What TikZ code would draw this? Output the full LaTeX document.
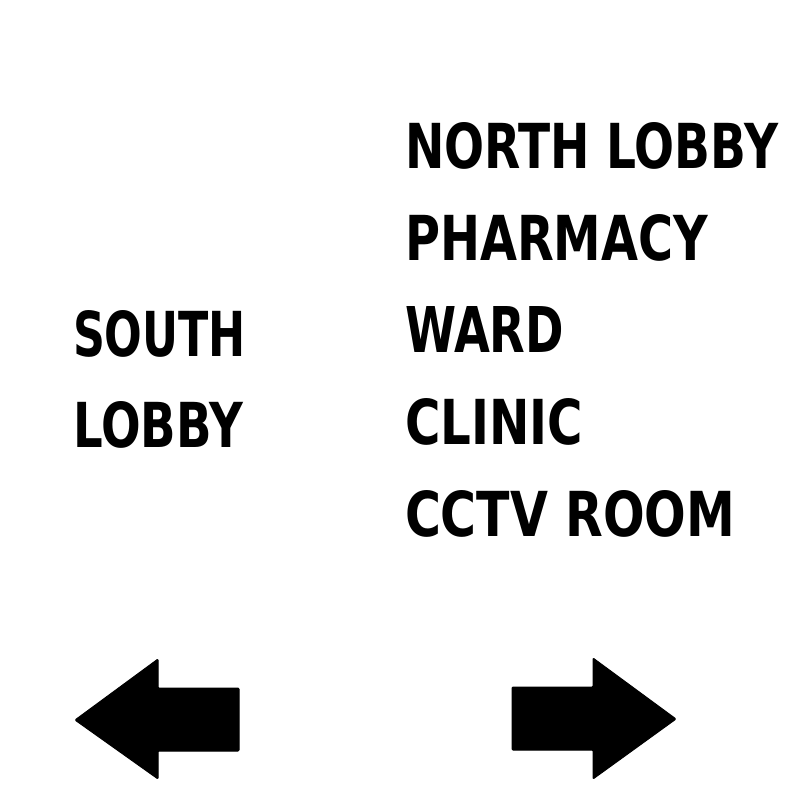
\documentclass[tikz,border=0pt]{standalone}
\usepackage{fontspec}
\setmainfont{DejaVu Sans}
\usepackage{graphicx}
\newcommand{\signtext}[2]{\resizebox{#1pt}{46pt}{\bfseries #2}}
\begin{document}
\begin{tikzpicture}[x=1pt,y=-1pt,
  label/.style={anchor=base west,inner sep=0pt,outer sep=0pt},
  arrowshape/.style={fill=black,draw=black,line width=1pt,rounded corners=1pt,line join=round}]
\useasboundingbox (0,0) rectangle (800,800);
% right column
\node[label] (north) at (405,168) {\signtext{373}{NORTH LOBBY}};
\node[label] (pharm) at (405,260) {\signtext{303}{PHARMACY}};
\node[label] (ward)  at (405,352) {\signtext{159}{WARD}};
\node[label] (clinic) at (405,444) {\signtext{178}{CLINIC}};
\node[label] (cctv)  at (405,536) {\signtext{330}{CCTV ROOM}};
% left column
\node[label] (south) at (73,356) {\signtext{173}{SOUTH}};
\node[label] (lobby) at (73,447) {\signtext{170}{LOBBY}};
% arrows
\draw[arrowshape] (75,720) -- (158,659) -- (158,688) -- (239,688) -- (239,751) -- (158,751) -- (158,779) -- cycle;
\draw[arrowshape] (676,719) -- (593,658) -- (593,687) -- (512,687) -- (512,750) -- (593,750) -- (593,779) -- cycle;
\end{tikzpicture}
\end{document}
